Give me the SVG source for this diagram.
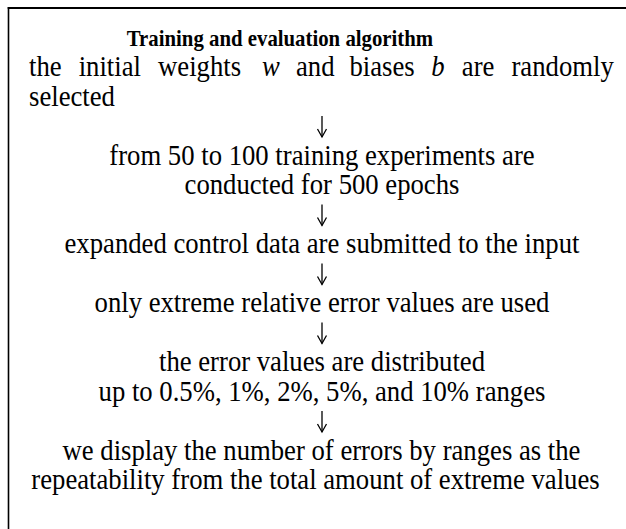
<svg xmlns="http://www.w3.org/2000/svg" width="626" height="529" viewBox="0 0 626 529">
<style>
  .frame { stroke:#000; fill:none; }
  .t { font-family:"Liberation Serif","Times New Roman",serif; font-size:26.7px; fill:#000; }
  .c { text-anchor:middle; }
  .title { font-family:"Liberation Serif","Times New Roman",serif; font-size:20.8px; font-weight:bold; fill:#000; text-anchor:middle; }
  .it { font-style:italic; }
  .conn { stroke:#000; stroke-width:1.3; fill:none; }
</style>
<defs>
  <marker id="head" markerUnits="userSpaceOnUse" markerWidth="12" markerHeight="12" viewBox="-10 -6 12 12" refX="0" refY="0" orient="auto">
    <path d="M-8,-4.5 L0,0 L-8,4.5" stroke="#000" stroke-width="1.3" fill="none"/>
  </marker>
</defs>
<rect x="0" y="0" width="626" height="529" fill="#fff"/>
<g id="frame">
  <line class="frame" x1="8.5" y1="7" x2="8.5" y2="529" stroke-width="1.6"/>
  <line class="frame" x1="7.7" y1="8" x2="626" y2="8" stroke-width="2"/>
</g>
<g id="title"><text class="title" x="280" y="0" transform="matrix(1,0,0,1.1,0,46)">Training and evaluation algorithm</text></g>
<g id="step1">
  <text class="t" y="0" transform="matrix(1,0,0,1.1,0,76)"><tspan x="29">the</tspan><tspan x="78.7">initial</tspan><tspan x="158.1">weights</tspan><tspan x="262" class="it">w</tspan><tspan x="296">and</tspan><tspan x="349.5">biases</tspan><tspan x="431.3" class="it">b</tspan><tspan x="461.8">are</tspan><tspan x="511.5">randomly</tspan></text>
  <text class="t" x="29" y="0" transform="matrix(1,0,0,1.1,0,105.5)">selected</text>
</g>
<g id="step2">
  <text class="t c" x="322" y="0" transform="matrix(1,0,0,1.1,0,164.5)">from 50 to 100 training experiments are</text>
  <text class="t c" x="322" y="0" transform="matrix(1,0,0,1.1,0,194)">conducted for 500 epochs</text>
</g>
<g id="step3"><text class="t c" x="322" y="0" transform="matrix(1,0,0,1.1,0,253)">expanded control data are submitted to the input</text></g>
<g id="step4"><text class="t c" x="322" y="0" transform="matrix(1,0,0,1.1,0,312)">only extreme relative error values are used</text></g>
<g id="step5">
  <text class="t c" x="322" y="0" transform="matrix(1,0,0,1.1,0,371)">the error values are distributed</text>
  <text class="t c" x="322" y="0" transform="matrix(1,0,0,1.1,0,400.5)">up to 0.5%, 1%, 2%, 5%, and 10% ranges</text>
</g>
<g id="step6">
  <text class="t c" x="321.5" y="0" transform="matrix(1,0,0,1.1,0,459.5)">we display the number of errors by ranges as the</text>
  <text class="t c" x="315.5" y="0" transform="matrix(1,0,0,1.1,0,489)">repeatability from the total amount of extreme values</text>
</g>
<g id="connectors">
  <path class="conn" d="M322,116 V137" marker-end="url(#head)"/>
  <path class="conn" d="M322,204.5 V225.5" marker-end="url(#head)"/>
  <path class="conn" d="M322,263.5 V284.5" marker-end="url(#head)"/>
  <path class="conn" d="M322,322.5 V343.5" marker-end="url(#head)"/>
  <path class="conn" d="M322,411 V432" marker-end="url(#head)"/>
</g>
</svg>
